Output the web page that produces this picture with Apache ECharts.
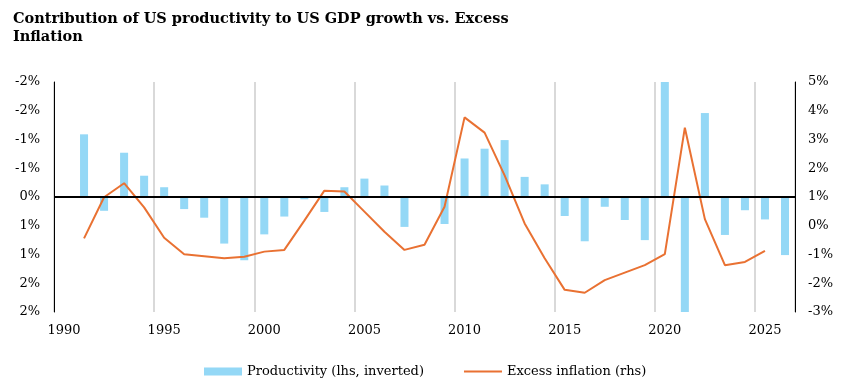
<!DOCTYPE html>
<html>
<head>
<meta charset="utf-8">
<script src="https://cdn.jsdelivr.net/npm/echarts@6/dist/echarts.min.js"></script>
<style>html,body{margin:0;padding:0;background:#fff;}#c{width:852px;height:388px;}</style>
</head>
<body>
<div id="c"></div>
<script>
const years = ['1990','1991','1992','1993','1994','1995','1996','1997','1998','1999','2000','2001','2002','2003','2004','2005','2006','2007','2008','2009','2010','2011','2012','2013','2014','2015','2016','2017','2018','2019','2020','2021','2022','2023','2024','2025','2026'];
const productivity = [null,-1.09,0.24,-0.77,-0.37,-0.17,0.21,0.36,0.81,1.10,0.65,0.34,0.04,0.26,-0.17,-0.32,-0.20,0.52,null,0.47,-0.67,-0.84,-0.99,-0.35,-0.22,0.33,0.77,0.17,0.40,0.75,-2.0,2.0,-1.46,0.66,0.23,0.39,1.01];
const excessInflation = [null,-0.44,0.99,1.48,0.64,-0.42,-0.99,-1.06,-1.13,-1.08,-0.90,-0.84,0.18,1.22,1.19,0.49,-0.21,-0.84,-0.66,0.66,3.77,3.24,1.75,0.08,-1.13,-2.23,-2.33,-1.89,-1.63,-1.37,-0.99,3.41,0.23,-1.37,-1.26,-0.87,null];
const titleText = 'Contribution of US productivity to US GDP growth vs. Excess\nInflation';
const seriesNames = ['Productivity (lhs, inverted)', 'Excess inflation (rhs)'];

const serif = 'DejaVu Serif';
const chart = echarts.init(document.getElementById('c'));
chart.setOption({
  animation: false,
  backgroundColor: '#fff',
  title: {
    text: titleText, left: 8, top: 5,
    textStyle: {fontFamily: serif, fontWeight: 'bold', fontSize: 14.5, color: '#000', lineHeight: 18}
  },
  legend: {
    left: 199, top: 360, itemGap: 40, itemWidth: 38, itemHeight: 8, symbolKeepAspect: true,
    textStyle: {fontFamily: serif, fontSize: 13, color: '#000'},
    data: [
      {name: seriesNames[0], icon: 'rect'},
      {name: seriesNames[1], icon: 'path://M0,0H40V2H0Z'}
    ]
  },
  grid: {left: 54, right: 57, top: 82, bottom: 76},
  xAxis: {
    type: 'category', data: years, boundaryGap: true,
    axisLine: {show: false}, axisTick: {show: false},
    axisLabel: {interval: 4, fontFamily: serif, fontSize: 13, color: '#000', margin: 12},
    splitLine: {show: true, interval: 4, lineStyle: {color: '#D9D9D9', width: 2}}
  },
  yAxis: [{
    type: 'value', inverse: true, min: -2, max: 2, interval: 0.5,
    axisLine: {show: true, lineStyle: {color: '#000', width: 1}},
    axisTick: {show: false}, splitLine: {show: false},
    axisLabel: {fontFamily: serif, fontSize: 13, color: '#000', margin: 14,
      formatter: v => { const r = Math.sign(v) * Math.round(Math.abs(v)); return (r === 0 ? 0 : r) + '%'; }}
  }, {
    type: 'value', min: -3, max: 5, interval: 1,
    axisLine: {show: true, lineStyle: {color: '#000', width: 1}},
    axisTick: {show: false}, splitLine: {show: false},
    axisLabel: {fontFamily: serif, fontSize: 13, color: '#000', margin: 13, formatter: '{value}%'}
  }],
  series: [{
    name: seriesNames[0], type: 'bar', yAxisIndex: 0, data: productivity,
    barWidth: '40%', itemStyle: {color: '#94D8F6'},
    markLine: {silent: true, symbol: 'none', label: {show: false},
      lineStyle: {color: '#000', width: 2, type: 'solid'}, data: [{yAxis: 0}]}
  }, {
    name: seriesNames[1], type: 'line', yAxisIndex: 1, data: excessInflation,
    symbol: 'none', lineStyle: {color: '#E97132', width: 2}, itemStyle: {color: '#E97132'}, z: 3
  }]
});
</script>
</body>
</html>
